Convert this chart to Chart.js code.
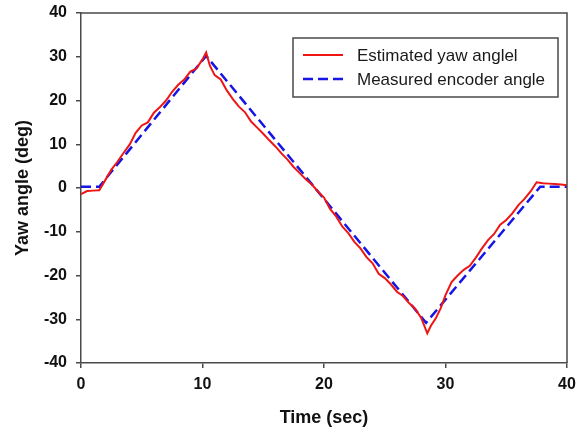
<!DOCTYPE html>
<html>
<head>
<meta charset="utf-8">
<script src="https://cdn.jsdelivr.net/npm/chart.js@4.4.1/dist/chart.umd.min.js"></script>
<style>
  html, body { margin: 0; padding: 0; background: #fff; }
  #wrap { width: 578px; height: 432px; }
</style>
</head>
<body>
<div id="wrap"><canvas id="yawChart" width="578" height="432"></canvas></div>
<script>
// Estimated yaw angle (red)
const estTime = [0, 0.5, 1.0, 1.5, 2.0, 2.5, 3.0, 3.5, 4.0, 4.5, 5.0, 5.5, 6.0, 6.5, 7.0, 7.5, 8.0, 8.5, 9.0, 9.5,
    10.0, 10.3, 10.6, 11.0, 11.5, 12.0, 12.5, 13.0, 13.5, 14.0, 14.5, 15.0, 15.5, 16.0, 16.5, 17.0, 17.5, 18.0, 18.5, 19.0,
    19.5, 20.0, 20.5, 21.0, 21.5, 22.0, 22.5, 23.0, 23.5, 24.0, 24.5, 25.0, 25.5, 26.0, 26.5, 27.0, 27.5, 28.0, 28.5, 28.8,
    29.2, 29.6, 30.0, 30.5, 31.0, 31.5, 32.0, 32.5, 33.0, 33.5, 34.0, 34.5, 35.0, 35.5, 36.0, 36.5, 37.0, 37.5, 38.0, 38.5,
    39.0, 39.5, 40.0];
const estYaw = [-1.4, -0.7, -0.6, -0.5, 1.8, 4.2, 6.0, 8.0, 9.9, 12.6, 14.3, 15.0, 17.2, 18.5, 20.0, 22.0, 23.6, 24.8, 26.6, 27.3,
    29.4, 31.0, 28.0, 25.8, 24.8, 22.3, 20.3, 18.6, 17.3, 15.2, 13.8, 12.4, 10.9, 9.5, 7.9, 6.5, 4.8, 3.4, 2.0, 0.8,
    -0.8, -2.2, -4.8, -6.5, -8.8, -10.3, -12.3, -13.8, -15.8, -17.2, -19.6, -20.6, -22.0, -23.7, -24.7, -26.3, -27.6, -29.7, -33.2, -31.5,
    -29.8, -27.5, -24.5, -21.5, -20.0, -18.7, -17.8, -15.9, -13.8, -11.9, -10.5, -8.4, -7.3, -5.8, -3.9, -2.5, -0.8, 1.3, 1.1, 1.0,
    0.9, 0.8, 0.6];

// Measured encoder angle (blue dashed), corner points
const encTime = [0, 1.5, 10.3, 28.4, 37.8, 40];
const encAngle = [0.3, 0.3, 30.2, -30.8, 0.3, 0.3];

const xTicks = [0, 10, 20, 30, 40];
const yTicks = [-40, -30, -20, -10, 0, 10, 20, 30, 40];
const seriesLabels = ['Estimated yaw anglel', 'Measured encoder angle'];

const toPoints = (xs, ys) => xs.map((x, i) => ({ x: x, y: ys[i] }));

const axisColor = '#4a4a4a';
const tickFont = { family: 'Liberation Sans, Arial, sans-serif', size: 16, weight: 'bold' };
const titleFont = { family: 'Liberation Sans, Arial, sans-serif', size: 18, weight: 'bold' };

// top/right frame lines
const framePlugin = {
    id: 'frame',
    afterDraw(chart) {
        const { ctx, chartArea: a } = chart;
        ctx.save();
        ctx.strokeStyle = axisColor;
        ctx.lineWidth = 1.5;
        ctx.beginPath();
        ctx.moveTo(a.left, a.top);
        ctx.lineTo(a.right, a.top);
        ctx.lineTo(a.right, a.bottom);
        ctx.stroke();
        ctx.restore();
    }
};

// boxed legend inside the plot
const boxLegend = {
    id: 'boxLegend',
    afterDraw(chart) {
        const ctx = chart.ctx;
        ctx.save();
        ctx.fillStyle = '#fff';
        ctx.fillRect(293, 38, 265, 59);
        ctx.strokeStyle = axisColor;
        ctx.lineWidth = 1.5;
        ctx.strokeRect(293, 38, 265, 59);
        ctx.font = '17px "Liberation Sans", Arial, sans-serif';
        ctx.textBaseline = 'middle';
        chart.data.datasets.forEach((ds, i) => {
            const y = 55 + i * 24;
            ctx.strokeStyle = ds.borderColor;
            ctx.lineWidth = ds.borderWidth;
            ctx.setLineDash(ds.borderDash || []);
            ctx.beginPath();
            ctx.moveTo(303, y);
            ctx.lineTo(343, y);
            ctx.stroke();
            ctx.setLineDash([]);
            ctx.fillStyle = '#1a1a1a';
            ctx.fillText(ds.label, 357, y + 1);
        });
        ctx.restore();
    }
};

new Chart(document.getElementById('yawChart'), {
    type: 'line',
    data: {
        datasets: [{
            label: seriesLabels[0],
            data: toPoints(estTime, estYaw),
            borderColor: '#ee1515',
            borderWidth: 2,
            pointRadius: 0,
            tension: 0
        }, {
            label: seriesLabels[1],
            data: toPoints(encTime, encAngle),
            borderColor: '#1515e6',
            borderWidth: 2.5,
            borderDash: [10, 5],
            pointRadius: 0,
            tension: 0
        }]
    },
    options: {
        responsive: false,
        animation: false,
        layout: { padding: { left: 0, top: 13, right: 11, bottom: 0 } },
        plugins: {
            legend: { display: false },
            tooltip: { enabled: false }
        },
        scales: {
            x: {
                type: 'linear',
                min: 0,
                max: 40,
                afterFit: (s) => { s.height = 69; s.paddingLeft = 0; s.paddingRight = 0; },
                afterBuildTicks: (s) => { s.ticks = xTicks.map(v => ({ value: v })); },
                grid: { drawOnChartArea: false, drawTicks: true, tickLength: 5, color: axisColor, lineWidth: 1.5 },
                border: { display: true, color: axisColor, width: 1.5 },
                ticks: { color: '#111', font: tickFont, padding: 7, maxRotation: 0 },
                title: { display: true, text: 'Time (sec)', color: '#111', font: titleFont, padding: { top: 0, bottom: 3 } }
            },
            y: {
                min: -40,
                max: 40,
                afterFit: (s) => { s.width = 81; s.paddingTop = 0; s.paddingBottom = 0; },
                afterBuildTicks: (s) => { s.ticks = yTicks.map(v => ({ value: v })); },
                grid: { drawOnChartArea: false, drawTicks: true, tickLength: 5, color: axisColor, lineWidth: 1.5 },
                border: { display: true, color: axisColor, width: 1.5 },
                ticks: { color: '#111', font: tickFont, padding: 9 },
                title: { display: true, text: 'Yaw angle (deg)', color: '#111', font: titleFont, padding: { top: 12, bottom: 0 } }
            }
        }
    },
    plugins: [framePlugin, boxLegend]
});
</script>
</body>
</html>
